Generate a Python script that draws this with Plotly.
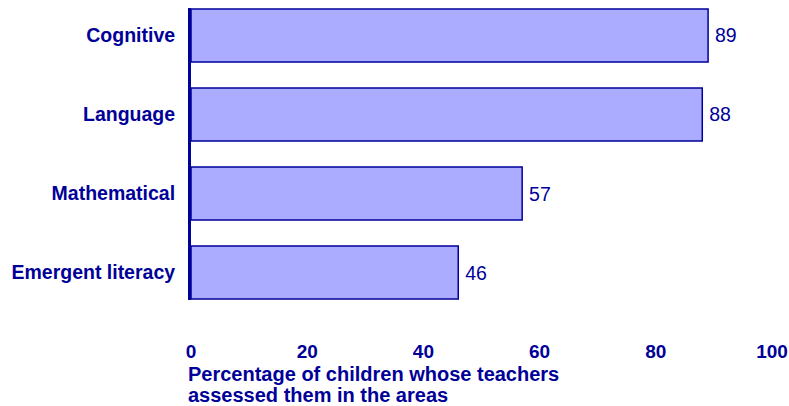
import plotly.graph_objects as go

categories = ["Cognitive", "Language", "Mathematical", "Emergent literacy"]
values = [89, 88, 57, 46]
x_ticks = [0, 20, 40, 60, 80, 100]
title_lines = ["Percentage of children whose teachers", "assessed them in the areas"]

navy = "#000099"
fill = "#ABABFF"
font_family = "Liberation Sans, Arial, sans-serif"

fig = go.Figure()
fig.add_trace(go.Bar(
    x=values, y=categories, orientation="h",
    marker=dict(color=fill, line=dict(color=navy, width=1.5)),
    text=[str(v) for v in values], texttemplate="\u2009%{text}", textposition="outside",
    textfont=dict(family=font_family, size=19.5, color=navy),
    cliponaxis=False,
))

fig.update_layout(
    width=789, height=406,
    margin=dict(l=191, r=17, t=8, b=106),
    plot_bgcolor="white", paper_bgcolor="white",
    bargap=0.33, showlegend=False,
    font=dict(family=font_family, color=navy),
)
fig.update_xaxes(
    range=[0, 100], tickvals=x_ticks, ticktext=[str(t) for t in x_ticks],
    showgrid=False, zeroline=False, showline=False, automargin=False,
    tickfont=dict(family=font_family, size=19, color=navy, weight="bold"),
    ticks="", ticklabelstandoff=38,
)
fig.update_yaxes(
    categoryorder="array", categoryarray=categories,
    range=[3.348, -0.348], automargin=False,
    showgrid=False, zeroline=False,
    showline=True, linecolor=navy, linewidth=3,
    tickfont=dict(family=font_family, size=19.5, color=navy, weight="bold"),
    ticks="", ticklabelstandoff=9,
)
for line, ypos in zip(title_lines, [-0.2534, -0.3253]):
    fig.add_annotation(
        text=line, xref="paper", yref="paper", x=-0.009, y=ypos,
        xanchor="left", yanchor="middle", align="left", showarrow=False,
        font=dict(family=font_family, size=20, color=navy, weight="bold"),
    )

fig.write_html("out.html")
